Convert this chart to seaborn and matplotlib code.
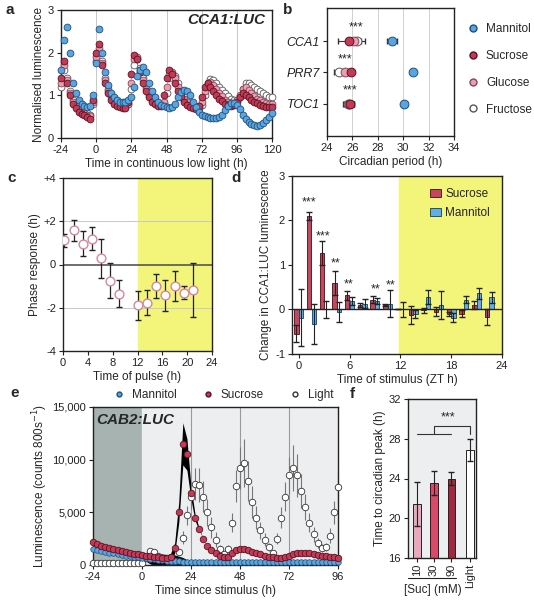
import numpy as np
import pandas as pd
import seaborn as sns
import matplotlib.pyplot as plt
from matplotlib.lines import Line2D
from matplotlib.patches import Patch

sns.set_style('ticks')
plt.rcParams['font.family'] = ['Liberation Sans', 'DejaVu Sans']
plt.rcParams['font.size'] = 8
plt.rcParams['axes.labelsize'] = 8.5
plt.rcParams['xtick.labelsize'] = 8
plt.rcParams['ytick.labelsize'] = 8
plt.rcParams['axes.linewidth'] = 1.0
plt.rcParams['axes.edgecolor'] = '#222222'
plt.rcParams['xtick.color'] = '#222222'
plt.rcParams['ytick.color'] = '#222222'
plt.rcParams['xtick.major.size'] = 3
plt.rcParams['ytick.major.size'] = 3
plt.rcParams['xtick.major.pad'] = 2
plt.rcParams['ytick.major.pad'] = 2
plt.rcParams['axes.labelpad'] = 2
plt.rcParams['axes.unicode_minus'] = False

BLUE, BLUE_E = '#5aa5de', '#1f4f7d'
RED, RED_E = '#c23b56', '#5a1020'
PINK, PINK_E = '#e6a0b2', '#8c4256'
WHITE_E = '#555555'
YELLOW = '#f3f47a'

# ---- data a: CCA1:LUC, 2 h steps from -24 to 120 ----
t_a = np.arange(-24, 121, 2)
a_mannitol = [1.6, 2.3, 2.6, 2.0, 1.3, 1.05, 0.9, 0.8, 0.75, 0.72, 0.75, 1.0,
              1.75, 2.55, 2.0, 1.55, 1.25, 1.05, 0.95, 0.88, 0.85, 0.85, 0.85, 0.88,
              0.95, 1.2, 1.45, 1.6, 1.66, 1.55, 1.3, 1.1, 0.95, 0.85, 0.78, 0.75,
              0.72, 0.7, 0.72, 0.8, 0.95, 1.08, 1.12, 1.1, 1.0, 0.85, 0.72, 0.62,
              0.55, 0.52, 0.5, 0.48, 0.47, 0.46, 0.5, 0.55, 0.65, 0.75, 0.82, 0.83,
              0.78, 0.68, 0.55, 0.45, 0.38, 0.33, 0.3, 0.28, 0.3, 0.35, 0.42, 0.5,
              0.58]
a_sucrose = [1.4, 1.8, 1.3, 1.0, 0.8, 0.7, 0.62, 0.57, 0.53, 0.5, 0.45, 0.9,
             2.0, 2.2, 1.7, 1.3, 1.05, 0.9, 0.8, 0.75, 0.72, 0.7, 0.7, 0.85,
             1.5, 1.95, 1.85, 1.55, 1.3, 1.1, 0.95, 0.85, 0.8, 0.76, 0.75, 1.0,
             1.4, 1.6, 1.5, 1.3, 1.1, 0.95, 0.85, 0.78, 0.72, 0.7, 0.68, 0.75,
             0.95, 1.2, 1.28, 1.2, 1.1, 1.0, 0.92, 0.86, 0.8, 0.77, 0.75, 0.78,
             0.85, 0.95, 1.05, 1.0, 0.95, 0.9, 0.85, 0.82, 0.78, 0.75, 0.73, 0.72,
             0.72]
a_glucose = [1.3, 1.7, 1.35, 1.05, 0.85, 0.75, 0.67, 0.62, 0.58, 0.55, 0.52, 0.85,
             1.9, 2.1, 1.75, 1.35, 1.1, 0.95, 0.85, 0.8, 0.76, 0.74, 0.74, 0.8,
             1.3, 1.85, 1.9, 1.6, 1.35, 1.15, 1.0, 0.9, 0.84, 0.8, 0.78, 0.85,
             1.2, 1.5, 1.55, 1.4, 1.2, 1.05, 0.92, 0.84, 0.78, 0.74, 0.7, 0.72,
             0.85, 1.1, 1.3, 1.32, 1.25, 1.15, 1.05, 0.98, 0.9, 0.85, 0.82, 0.82,
             0.88, 1.0, 1.15, 1.2, 1.12, 1.05, 0.98, 0.92, 0.88, 0.84, 0.82, 0.8,
             0.8]
a_fructose = [1.2, 1.6, 1.4, 1.1, 0.9, 0.78, 0.7, 0.65, 0.6, 0.58, 0.55, 0.8,
              1.8, 2.0, 1.8, 1.4, 1.15, 1.0, 0.9, 0.83, 0.8, 0.78, 0.77, 0.8,
              1.15, 1.7, 1.85, 1.65, 1.4, 1.2, 1.05, 0.95, 0.88, 0.83, 0.8, 0.82,
              1.05, 1.4, 1.5, 1.45, 1.28, 1.12, 1.0, 0.9, 0.82, 0.76, 0.72, 0.7,
              0.78, 1.0, 1.25, 1.38, 1.35, 1.28, 1.2, 1.12, 1.05, 0.98, 0.92, 0.88,
              0.88, 0.98, 1.15, 1.28, 1.3, 1.25, 1.2, 1.15, 1.1, 1.05, 1.0, 0.95,
              0.95]

# ---- data b: circadian period ----
genes = ['CCA1', 'PRR7', 'TOC1']
b_mannitol = [29.1, 30.8, 30.1]
b_mannitol_err = [0.4, 0.15, 0.2]
b_sucrose = [25.75, 25.9, 25.85]
b_sucrose_err = [0.9, 0.2, 0.3]
b_glucose = [26.15, 25.45, 25.7]
b_glucose_err = [0.3, 0.2, 0.45]
b_fructose = [26.4, 24.97, 25.65]
b_fructose_err = [0.6, 0.45, 0.3]
b_stars_x = [26.3, 25.4, 25.8]

# ---- data c: phase response ----
c_time = [0.2, 1.7, 3.2, 4.7, 6.1, 7.6, 9.0, 12.0, 13.5, 15.0, 16.5, 18.0, 19.5, 21.0]
c_phase = [1.12, 1.58, 0.97, 1.2, 0.28, -0.74, -1.35, -1.89, -1.77, -1.0, -1.43, -1.0, -1.31, -1.2]
c_err = [0.3, 0.5, 0.6, 0.55, 0.9, 0.8, 0.63, 0.68, 0.57, 0.57, 0.7, 0.7, 0.3, 1.25]

# ---- data d: change in CCA1:LUC luminescence ----
d_time = [0, 1.5, 3, 4.5, 6, 7.5, 9, 10.5, 12, 13.5, 15, 16.5, 18, 19.5, 21, 22.5]
d_suc = [-0.54, 2.1, 1.26, 0.6, 0.32, 0.1, 0.22, 0.1, 0.0, -0.13, -0.02, -0.05, -0.1, -0.09, 0.1, -0.16]
d_suc_err = [0.2, 0.1, 0.27, 0.27, 0.1, 0.05, 0.08, 0.03, 0.0, 0.2, 0.05, 0.1, 0.05, 0.08, 0.1, 0.18]
d_man = [-0.18, -0.33, 0.0, -0.05, 0.19, 0.13, 0.19, 0.13, 0.0, -0.1, 0.28, 0.1, -0.18, 0.22, 0.36, 0.27]
d_man_err = [0.65, 0.45, 0.2, 0.22, 0.08, 0.1, 0.07, 0.3, 0.17, 0.08, 0.15, 0.32, 0.1, 0.08, 0.12, 0.12]
d_star_time = [1.25, 2.85, 4.35, 5.9, 9.05, 10.8]
d_star_y = [2.4, 1.65, 1.03, 0.57, 0.46, 0.55]
d_star_txt = ['***', '***', '**', '**', '**', '**']

# ---- data e: CAB2:LUC, 2 h steps from -24 to 96 ----
t_e = np.arange(-24, 97, 2)
e_mannitol = [1500, 1400, 1300, 1250, 1150, 1100, 1000, 950, 900, 850, 800, 750,
              700, 650, 600, 550, 500, 450, 400, 380, 360, 340, 320, 300,
              300, 290, 290, 280, 280, 280, 270, 270, 270, 270, 260, 260,
              260, 260, 260, 250, 250, 250, 250, 250, 250, 250, 250, 250,
              250, 250, 250, 250, 250, 250, 250, 250, 250, 250, 250, 250,
              250]
e_mannitol_err = [0, 0, 0, 0, 0, 0, 0, 0, 0, 0, 0, 0,
                  0, 300, 500, 600, 600, 600, 600, 600, 600, 500, 400, 200,
                  0, 0, 0, 0, 0, 0, 0, 0, 0, 0, 0, 0,
                  0, 0, 0, 0, 0, 0, 0, 0, 0, 0, 0, 0,
                  0, 0, 0, 0, 0, 0, 0, 0, 0, 0, 0, 0,
                  0]
e_sucrose = [2200, 2000, 1850, 1750, 1650, 1550, 1450, 1350, 1250, 1150, 1050, 1000,
             950, 900, 850, 800, 750, 700, 650, 800, 1600, 5000, 11500, 10500,
             6800, 4500, 3400, 2500, 1800, 1400, 1100, 900, 750, 800, 1100, 1400,
             1550, 1500, 1400, 1250, 1100, 1000, 900, 800, 720, 680, 700, 800,
             900, 1000, 1100, 1150, 1150, 1100, 1000, 950, 900, 850, 800, 750,
             700]
e_sucrose_err = [0, 0, 0, 0, 0, 0, 0, 0, 0, 0, 0, 0,
                 0, 0, 0, 0, 200, 300, 300, 300, 500, 1000, 2000, 1500,
                 600, 300, 100, 0, 0, 0, 0, 0, 0, 0, 0, 0,
                 0, 0, 0, 0, 0, 0, 0, 0, 0, 0, 0, 0,
                 0, 0, 0, 0, 0, 0, 0, 0, 0, 0, 0, 0,
                 0]
e_light = [150, 150, 150, 150, 150, 150, 150, 150, 150, 150, 150, 150,
           200, 700, 1350, 1200, 900, 650, 450, 350, 350, 1200, 2600, 4700,
           6500, 7700, 7600, 6500, 5000, 3600, 2400, 1500, 1000, 1500, 4000, 7500,
           9200, 9700, 8000, 6000, 4500, 3300, 2400, 1700, 1100, 2500, 4500, 6500,
           8500, 9200, 8500, 7000, 5500, 4000, 2900, 2100, 1600, 1700, 2800, 5000,
           7400]
e_light_err = [0, 0, 0, 0, 0, 0, 0, 0, 0, 0, 0, 0,
               0, 100, 200, 200, 150, 100, 100, 100, 100, 300, 600, 900,
               1200, 1500, 1600, 1500, 1300, 1000, 700, 400, 300, 400, 900, 1500,
               2000, 2300, 1900, 1500, 1100, 800, 600, 400, 300, 500, 1000, 1400,
               1800, 2200, 2000, 1600, 1200, 900, 700, 500, 400, 400, 700, 1100,
               1500]

# ---- data f: time to circadian peak ----
f_labels = ['10', '30', '90', 'Light']
f_values = [21.4, 23.55, 24.0, 26.85]
f_err = [2.2, 1.25, 0.7, 1.1]
f_colors = ['#eba8bd', '#d84a68', '#a3283f', '#ffffff']

fig = plt.figure(figsize=(5.34, 6.0), dpi=100)

def box(x0, y0, x1, y1):
    return [x0 / 534, 1 - y1 / 600, (x1 - x0) / 534, (y1 - y0) / 600]

# ================= a =================
ax = fig.add_axes(box(61, 10, 272, 138))
for xv in [0, 24, 48, 72, 96]:
    ax.axvline(xv, color='#c8c8c8', lw=0.7, zorder=0)
for vals, fc, ec in [(a_fructose, 'white', WHITE_E), (a_glucose, PINK, PINK_E),
                     (a_sucrose, RED, RED_E), (a_mannitol, BLUE, BLUE_E)]:
    sns.scatterplot(x=t_a, y=vals, color=fc, edgecolor=ec, s=24, linewidth=0.6,
                    ax=ax, clip_on=False, zorder=3)
ax.set_xlim(-24, 120)
ax.set_ylim(0, 3)
ax.set_xticks([-24, 0, 24, 48, 72, 96, 120])
ax.set_yticks([0, 1, 2, 3])
ax.set_xlabel('Time in continuous low light (h)')
ax.set_ylabel('Normalised luminescence')
ax.text(0.97, 0.92, 'CCA1:LUC', transform=ax.transAxes, ha='right', va='center',
        fontsize=11, fontweight='bold', fontstyle='italic')

# ================= b =================
ax = fig.add_axes(box(327, 8, 454, 136))
for xv in [26, 28, 30, 32]:
    ax.axvline(xv, color='#d0d0d0', lw=0.7, zorder=0)
ypos = np.arange(len(genes))
handles = []
for vals, errs, fc, ec, lab in [(b_fructose, b_fructose_err, 'white', WHITE_E, 'Fructose'),
                                 (b_glucose, b_glucose_err, PINK, PINK_E, 'Glucose'),
                                 (b_sucrose, b_sucrose_err, RED, RED_E, 'Sucrose'),
                                 (b_mannitol, b_mannitol_err, BLUE, BLUE_E, 'Mannitol')]:
    ax.errorbar(vals, ypos, xerr=errs, fmt='none', ecolor='#333333', elinewidth=0.8,
                capsize=2, zorder=2)
    sns.scatterplot(x=vals, y=ypos, color=fc, edgecolor=ec, s=40, linewidth=0.7,
                    ax=ax, zorder=3)
    handles.insert(0, Line2D([], [], marker='o', ls='', markerfacecolor=fc,
                             markeredgecolor=ec, markersize=5, label=lab))
for xs, yv in zip(b_stars_x, ypos):
    ax.text(xs, yv - 0.42, '***', ha='center', va='center', fontsize=9)
ax.set_xlim(24, 34)
ax.set_ylim(3.02, -1.05)
ax.set_xticks([24, 26, 28, 30, 32, 34])
ax.set_yticks(ypos)
ax.set_yticklabels(genes, fontstyle='italic', fontsize=9)
ax.set_xlabel('Circadian period (h)')
ax.legend(handles=handles, loc='center left', bbox_to_anchor=(1.0, 0.52), frameon=False,
          handletextpad=0.1, labelspacing=1.25, fontsize=8.5, borderaxespad=0.2)

# ================= c =================
ax = fig.add_axes(box(63, 178, 212, 351))
ax.axvspan(12, 24, color=YELLOW, zorder=0)
for yv in [2, -2]:
    ax.axhline(yv, color='#c8c8c8', lw=0.7, zorder=0.5)
ax.axhline(0, color='#555555', lw=1.2, zorder=1)
ax.errorbar(c_time, c_phase, yerr=c_err, fmt='none', ecolor='#222222', elinewidth=0.9,
            capsize=2, zorder=2)
sns.scatterplot(x=c_time, y=c_phase, color='white', edgecolor='#d4889b', s=40,
                linewidth=1.0, ax=ax, zorder=3)
ax.set_xlim(0, 24)
ax.set_ylim(-4, 4)
ax.set_xticks(range(0, 25, 4))
ax.set_yticks([-4, -2, 0, 2, 4])
ax.set_yticklabels(['-4', '-2', '0', '+2', '+4'])
ax.set_xlabel('Time of pulse (h)')
ax.set_ylabel('Phase response (h)')

# ================= d =================
ax = fig.add_axes(box(292, 176, 502, 354))
ax.axvspan(11.8, 24, color=YELLOW, zorder=0)
td = np.array(d_time)
ax.bar(td - 0.27, d_suc, width=0.52, color='#c8455e', edgecolor='#3a1018', linewidth=0.6,
       zorder=2, label='Sucrose')
ax.bar(td + 0.27, d_man, width=0.52, color='#5fb0e8', edgecolor='#1b3a55', linewidth=0.6,
       zorder=2, label='Mannitol')
ax.errorbar(td - 0.27, d_suc, yerr=d_suc_err, fmt='none', ecolor='#222222', elinewidth=0.8,
            capsize=2, zorder=3)
ax.errorbar(td + 0.27, d_man, yerr=d_man_err, fmt='none', ecolor='#222222', elinewidth=0.8,
            capsize=2, zorder=3)
ax.axhline(0, color='#222222', lw=1.0, zorder=2.5)
for xs, ys, tx in zip(d_star_time, d_star_y, d_star_txt):
    ax.text(xs, ys, tx, ha='center', va='center', fontsize=9)
ax.set_xlim(-0.8, 23.6)
ax.set_ylim(-1, 3)
ax.set_xticks([0, 6, 12, 18, 24])
ax.set_yticks([-1, 0, 1, 2, 3])
ax.set_xlabel('Time of stimulus (ZT h)')
ax.set_ylabel('Change in CCA1:LUC luminescence')
ax.legend(loc='upper right', frameon=False, fontsize=8.5, handlelength=0.9, handleheight=0.7,
          handletextpad=0.4, borderaxespad=0.6, labelspacing=0.6)

# ================= e =================
ax = fig.add_axes(box(93, 407, 338, 565))
ax.axvspan(-24, 0, color='#a6b3b1', zorder=0)
ax.axvspan(0, 96, color='#eceef0', zorder=0)
for xv in [24, 48, 72]:
    ax.axvline(xv, color='#9a9a9a', lw=0.8, zorder=0.5)
em = np.array(e_mannitol)
es = np.array(e_sucrose)
ax.fill_between(t_e, em - np.array(e_mannitol_err), em + np.array(e_mannitol_err),
                color='#0a0a14', lw=0, zorder=1)
ax.fill_between(t_e, es - np.array(e_sucrose_err), es + np.array(e_sucrose_err),
                color='black', lw=0, zorder=1)
ax.errorbar(t_e, e_light, yerr=e_light_err, fmt='none', ecolor='#777777', elinewidth=0.8,
            zorder=1.5)
sns.scatterplot(x=t_e, y=e_light, color='white', edgecolor='#333333', s=22, linewidth=0.6,
                ax=ax, zorder=3, clip_on=False)
sns.scatterplot(x=t_e, y=e_mannitol, color=BLUE, edgecolor=BLUE_E, s=16, linewidth=0.5,
                ax=ax, zorder=3, clip_on=False)
sns.scatterplot(x=t_e, y=e_sucrose, color=RED, edgecolor=RED_E, s=22, linewidth=0.6,
                ax=ax, zorder=4, clip_on=False)
ax.set_xlim(-24, 96)
ax.set_ylim(0, 15000)
ax.set_xticks([-24, 0, 24, 48, 72, 96])
ax.set_yticks([0, 5000, 10000, 15000])
ax.set_yticklabels(['0', '5,000', '10,000', '15,000'])
ax.set_xlabel('Time since stimulus (h)')
ax.set_ylabel('Luminescence (counts 800s$^{-1}$)')
ax.text(0.015, 0.92, 'CAB2:LUC', transform=ax.transAxes, ha='left', va='center',
        fontsize=11, fontweight='bold', fontstyle='italic', zorder=5)
e_handles = [Line2D([], [], marker='o', ls='', markerfacecolor=BLUE, markeredgecolor=BLUE_E,
                    markersize=3.5, label='Mannitol'),
             Line2D([], [], marker='o', ls='', markerfacecolor=RED, markeredgecolor=RED_E,
                    markersize=3.5, label='Sucrose'),
             Line2D([], [], marker='o', ls='', markerfacecolor='white', markeredgecolor='#333333',
                    markersize=3.5, label='Light')]
ax.legend(handles=e_handles, loc='lower center', bbox_to_anchor=(0.52, 1.0), ncol=3,
          frameon=False, fontsize=8.5, handletextpad=0.1, columnspacing=1.6, borderaxespad=0.1)

# ================= f =================
ax = fig.add_axes(box(408, 399, 476, 558))
ax.set_facecolor('#eceef0')
xf = [0, 1, 2, 3.1]
ax.bar(xf, f_values, width=0.42, color=f_colors, edgecolor='#222222', linewidth=0.7, zorder=2)
ax.errorbar(xf, f_values, yerr=f_err, fmt='none', ecolor='#222222', elinewidth=0.8,
            capsize=2, zorder=3)
ax.plot([0, 2], [28.5, 28.5], color='#333333', lw=0.8)
ax.plot([1, 1, 3.1, 3.1], [28.5, 29.3, 29.3, 28.5], color='#333333', lw=0.8)
ax.text(1.8, 29.5, '***', ha='center', va='bottom', fontsize=9)
ax.set_xlim(-0.52, 3.45)
ax.set_ylim(16, 32)
ax.set_yticks([16, 20, 24, 28, 32])
ax.set_xticks(xf)
ax.set_xticklabels(f_labels, rotation=90, fontsize=8)
ax.tick_params(axis='x', pad=1)
ax.set_ylabel('Time to circadian peak (h)')
fig.add_artist(Line2D([408 / 534, 456 / 534], [1 - 578 / 600, 1 - 578 / 600],
                      color='#222222', lw=0.8))
fig.text(433 / 534, 1 - 590 / 600, '[Suc] (mM)', ha='center', va='center', fontsize=8.5)

# panel letters
for lt, (px, py) in zip('abcdef', [(10, 10), (288, 10), (12, 178), (236, 178), (15, 393), (352, 394)]):
    fig.text(px / 534, 1 - py / 600, lt, ha='center', va='center', fontsize=11, fontweight='bold')

fig.savefig('out.png', dpi=100)
